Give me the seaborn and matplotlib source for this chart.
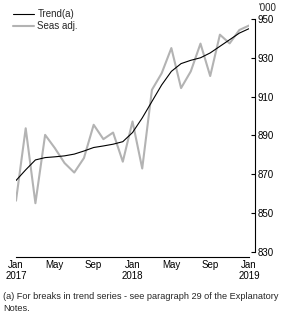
import matplotlib
matplotlib.use("Agg")
import matplotlib.pyplot as plt
import seaborn as sns
import pandas as pd

# monthly series, Jan 2017 - Jan 2019 ('000)
months = pd.date_range("2017-01-01", "2019-01-01", freq="MS")
trend = [866.8, 872.3, 877.4, 878.6, 879.0, 879.5, 880.4, 882.0, 883.8, 884.6,
         885.5, 886.8, 891.5, 899.0, 907.5, 916.0, 923.0, 927.0, 928.7, 930.0,
         932.5, 935.9, 939.3, 942.7, 945.0]
seas_adj = [856.4, 893.7, 855.1, 890.3, 883.5, 875.8, 870.9, 878.4, 895.5, 888.1,
            891.5, 876.5, 897.2, 873.0, 913.5, 922.0, 935.0, 914.4, 923.0, 937.3,
            920.6, 941.9, 937.4, 944.3, 946.6]
tick_pos = [0, 4, 8, 12, 16, 20, 24]
tick_labels = ["Jan\n2017", "May", "Sep", "Jan\n2018", "May", "Sep", "Jan\n2019"]
yticks = [830, 850, 870, 890, 910, 930, 950]

df = pd.DataFrame({"idx": range(len(months)), "Trend(a)": trend, "Seas adj.": seas_adj})

sns.set_style("white")
plt.rcParams["font.family"] = ["Liberation Sans", "DejaVu Sans"]
plt.rcParams["font.size"] = 7

fig = plt.figure(figsize=(2.83, 3.21), dpi=100)
ax = fig.add_axes([0.0565, 0.215, 0.8235, 0.726])

sns.lineplot(data=df, x="idx", y="Seas adj.", ax=ax, color="#b3b3b3", linewidth=1.5, label="Seas adj.")
sns.lineplot(data=df, x="idx", y="Trend(a)", ax=ax, color="black", linewidth=0.8, label="Trend(a)")

ax.set_xlim(0, 24)
ax.set_ylim(830, 950)
ax.set_xticks(tick_pos)
ax.set_xticklabels(tick_labels)
ax.set_yticks(yticks)
ax.set_xlabel("")
ax.set_ylabel("")

ax.yaxis.tick_right()
ax.spines["left"].set_visible(False)
ax.spines["top"].set_visible(False)
ax.spines["right"].set_position(("outward", 4.3))
ax.spines["bottom"].set_position(("outward", 3.6))
for s in ["right", "bottom"]:
    ax.spines[s].set_color("black")
    ax.spines[s].set_linewidth(0.8)
ax.tick_params(axis="both", direction="in", length=3, width=0.8, colors="black", labelsize=7, pad=2)
ax.tick_params(axis="y", left=False, right=True)

handles, labels = ax.get_legend_handles_labels()
ax.legend(handles[::-1], labels[::-1], loc="upper left", bbox_to_anchor=(-0.05, 1.08),
          frameon=False, fontsize=7, handlelength=2.2, handletextpad=0.3, labelspacing=0.2)

fig.text(0.912, 0.975, "'000", fontsize=7, ha="left", va="center")
fig.text(0.01, 0.058, "(a) For breaks in trend series - see paragraph 29 of the Explanatory\nNotes.",
         fontsize=6.6, ha="left", va="center", linespacing=1.5)

fig.savefig("out.png", dpi=100)
